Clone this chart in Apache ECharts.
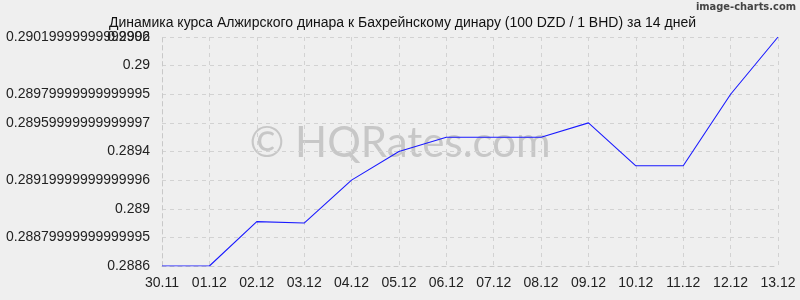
<!DOCTYPE html>
<html><head><meta charset="utf-8">
<script src="https://cdn.jsdelivr.net/npm/echarts@6/dist/echarts.min.js"></script>
<style>html,body{margin:0;padding:0;background:#efefef}#c{width:800px;height:300px}</style>
</head><body><div id="c"></div>
<script>
const categories = ["30.11","01.12","02.12","03.12","04.12","05.12","06.12","07.12","08.12","09.12","10.12","11.12","12.12","13.12"];
const rates = [0.2886,0.2886,0.28891,0.2889,0.2892,0.2894,0.2895,0.2895,0.2895,0.2896,0.2893,0.2893,0.2898,0.2902];
const yTickLabels = ["0.2886","0.28879999999999995","0.289","0.28919999999999996","0.2894","0.28959999999999997","0.28979999999999995","0.29","0.29019999999999996"];
const yTopExtraLabel = "0.2902";
const titleText = "Динамика курса Алжирского динара к Бахрейнскому динару (100 DZD / 1 BHD) за 14 дней";
const yMin = 0.2886, yMax = 0.2902, yStep = 0.0002;

const chart = echarts.init(document.getElementById('c'), null, {renderer:'canvas'});
const font = 'Arial, "Liberation Sans", sans-serif';
const idx = v => Math.round((v - yMin) / yStep);
chart.setOption({
  backgroundColor: '#efefef',
  animation: false,
  title: {text: titleText, left: 104, top: 11, textStyle: {fontFamily: font, fontSize: 14, fontWeight: 'normal', color: '#111'}},
  graphic: [
    {type:'text', right: 4, top: 2, style:{text:'image-charts.com', font:'bold 11px "DejaVu Sans Condensed", sans-serif', fill:'#444'}},
    {type:'text', left: 'center', top: 122, z: -1, style:{text:'© HQRates.com', font:'42px Lato, "Open Sans", sans-serif', fill:'rgba(150,150,150,0.45)'}}
  ],
  grid: {left: 162, right: 22, top: 37, bottom: 34},
  xAxis: {
    type: 'category', data: categories, boundaryGap: false,
    axisLine: {lineStyle: {color: '#c8c8c8', type: [4,4]}},
    axisTick: {show: false},
    axisLabel: {fontFamily: font, fontSize: 14, color: '#222', margin: 10},
    splitLine: {show: true, lineStyle: {color: '#d2d2d2', type: [4,4]}}
  },
  yAxis: [{
    type: 'value', min: yMin, max: yMax, interval: yStep,
    axisLine: {show: true, lineStyle: {color: '#c8c8c8', type: [4,4]}},
    axisTick: {show: false},
    axisLabel: {fontFamily: font, fontSize: 14, color: '#222', margin: 12, formatter: v => yTickLabels[idx(v)] || ''},
    splitLine: {show: true, lineStyle: {color: '#d2d2d2', type: [4,4]}}
  },{
    type: 'value', min: yMin, max: yMax, interval: yStep, position: 'left',
    axisLine: {show: false}, axisTick: {show: false}, splitLine: {show: false},
    axisLabel: {fontFamily: font, fontSize: 14, color: '#222', margin: 12, formatter: v => idx(v) === yTickLabels.length - 1 ? yTopExtraLabel : ''}
  }],
  series: [{
    type: 'line', data: rates, symbol: 'none',
    lineStyle: {color: '#1a1aff', width: 1.1}
  }]
});
</script></body></html>
